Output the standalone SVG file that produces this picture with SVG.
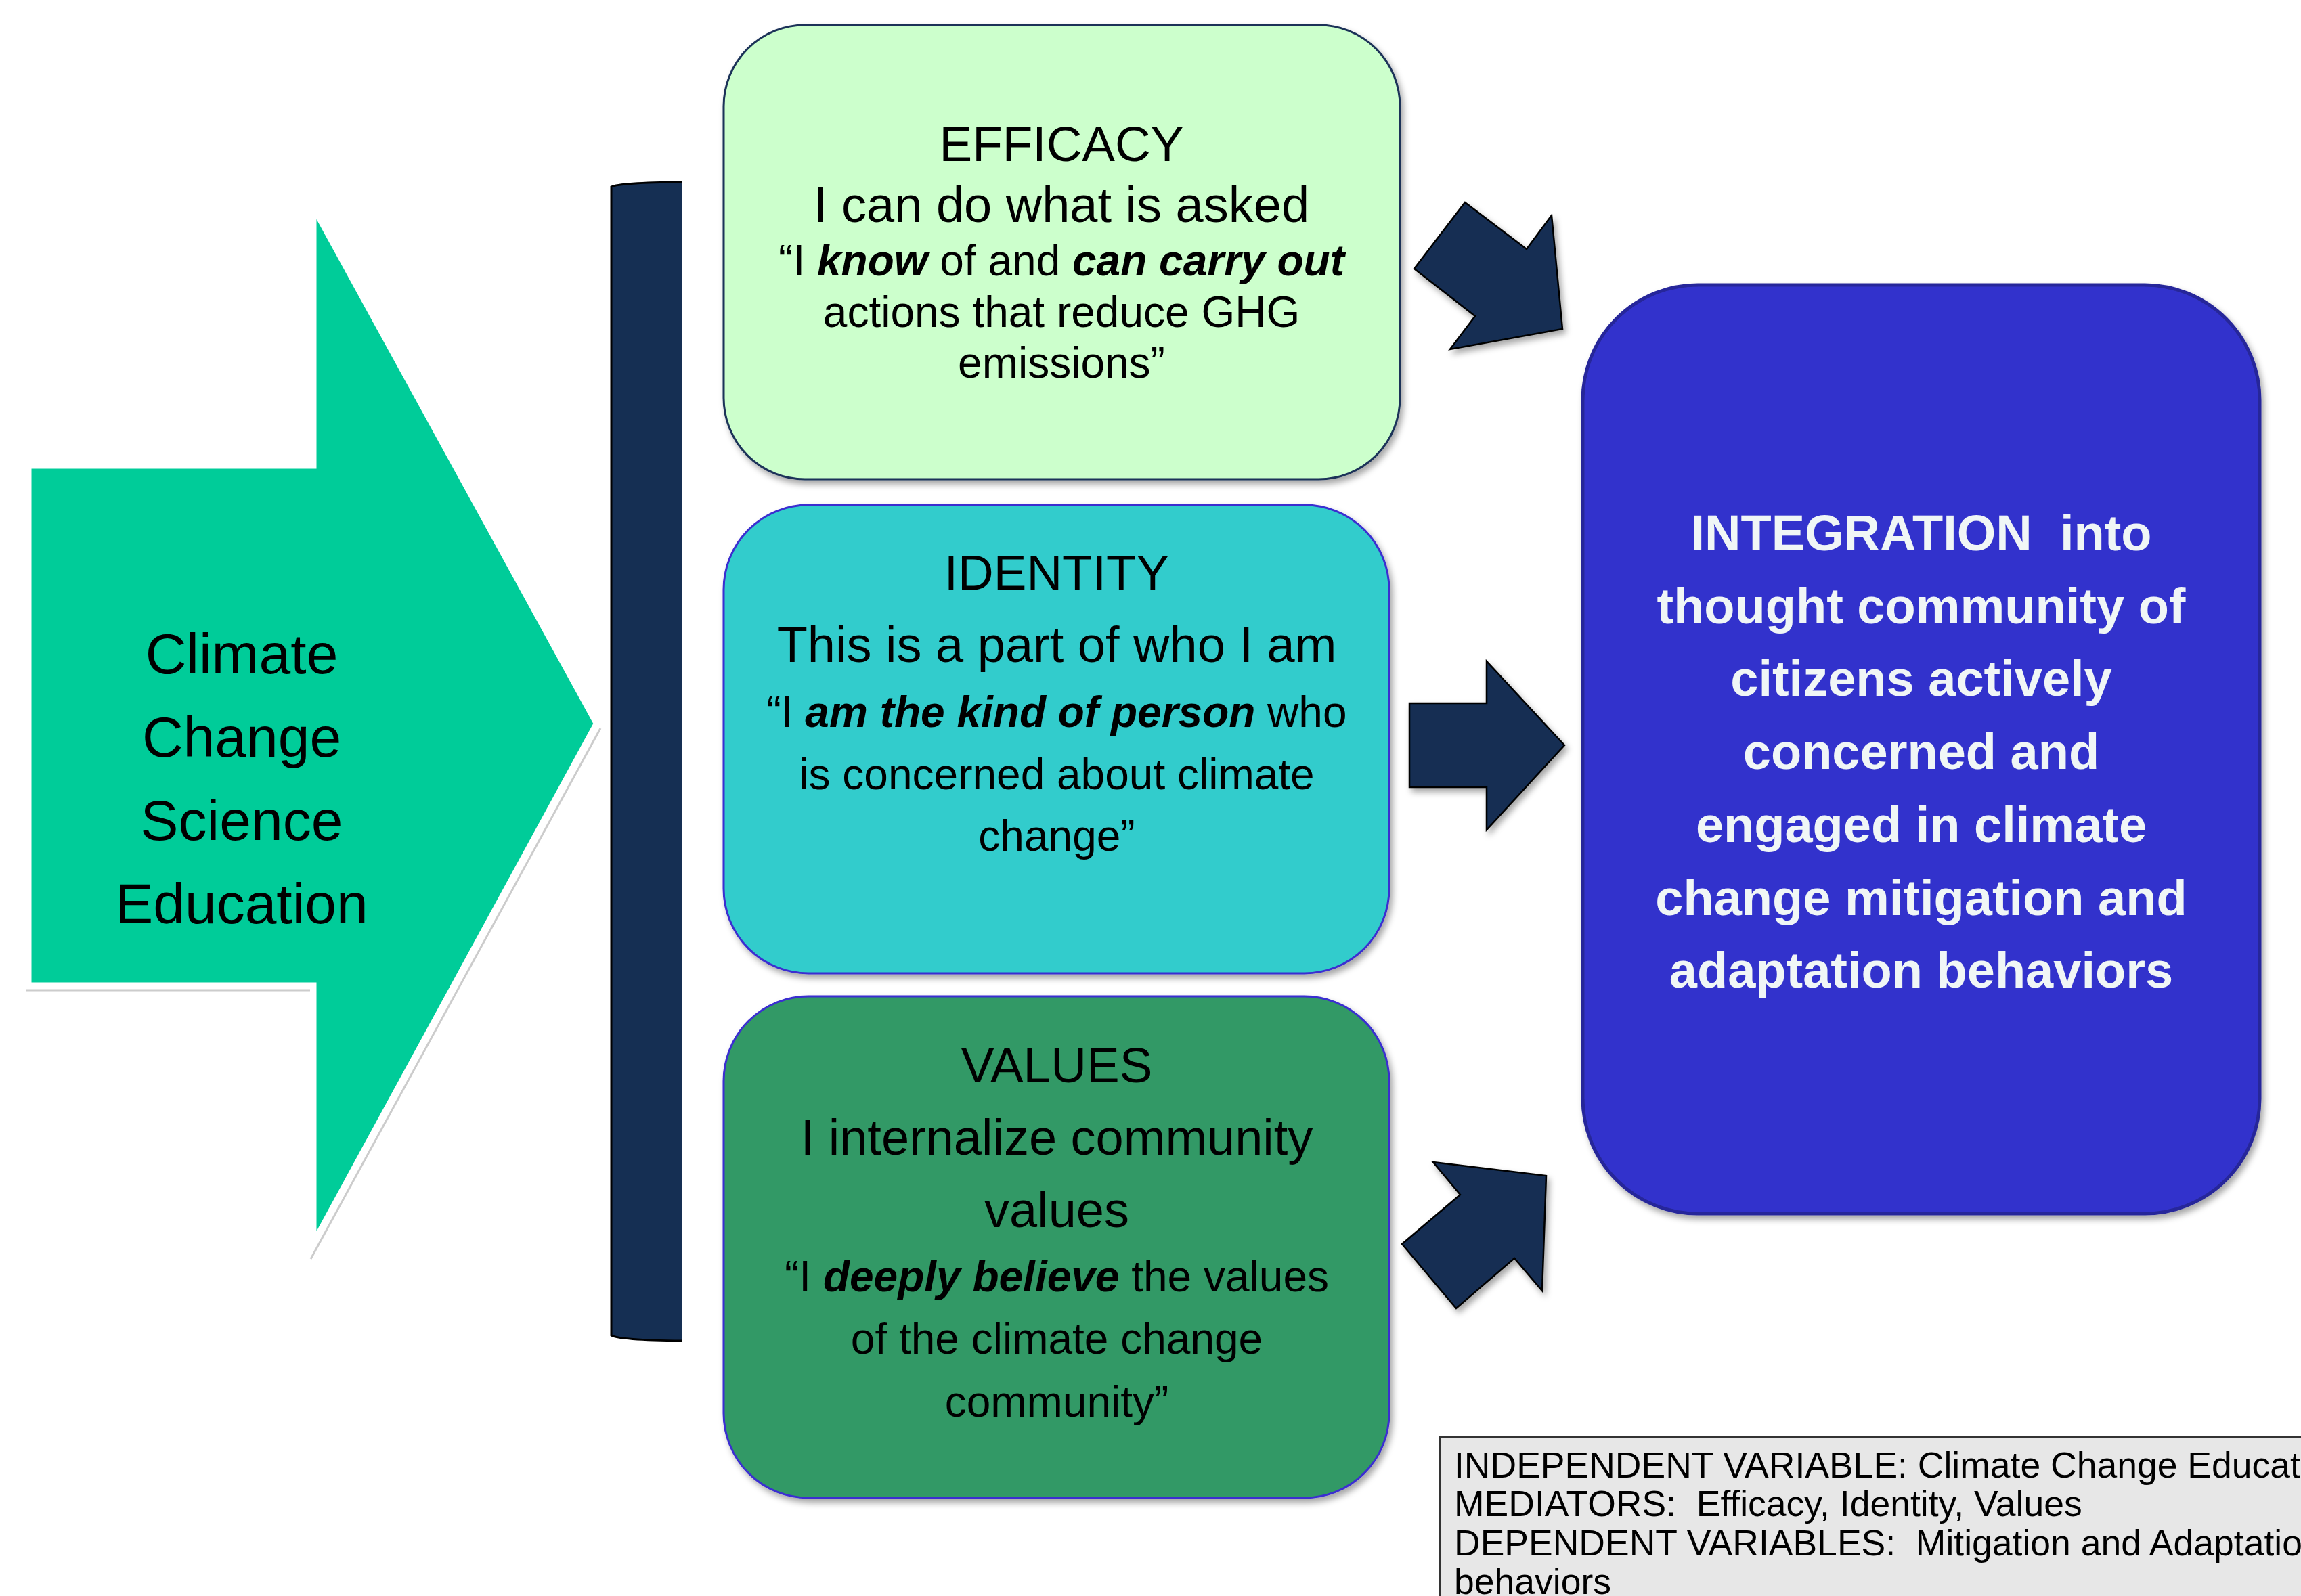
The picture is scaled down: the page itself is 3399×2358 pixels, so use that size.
<svg xmlns="http://www.w3.org/2000/svg" width="3399" height="2358" viewBox="0 0 3399 2358">
<defs>
<filter id="sh" x="-10%" y="-10%" width="120%" height="120%">
<feDropShadow dx="4" dy="6" stdDeviation="5" flood-color="#000" flood-opacity="0.35"/>
</filter>
<style>
text{font-family:"Liberation Sans",Arial,sans-serif;text-anchor:middle;fill:#000}
.t1{font-size:73px}
.t2{font-size:74px}
.t3{font-size:64px}
.bi{font-weight:bold;font-style:italic}
.big{font-size:84px}
.int{font-size:74px;font-weight:bold;fill:#f0f6f6;white-space:pre}
.leg{font-size:53.5px;text-anchor:start;white-space:pre}
.blk{fill:#142e52;stroke:#000;stroke-width:2.5;stroke-linejoin:miter;filter:url(#sh)}
.box{filter:url(#sh)}
</style>
</defs>
<rect width="3399" height="2358" fill="#fff"/>

<g id="climate-education">
<polyline points="38,1463 458,1463" fill="none" stroke="#cccccc" stroke-width="3"/>
<polyline points="887,1076 459,1860" fill="none" stroke="#cccccc" stroke-width="3"/>
<polygon points="45,691 466,691 466,318 878,1069 466,1825 466,1453 45,1453" fill="#00cc99" stroke="#fff" stroke-width="3"/>
<text class="big" x="357" y="995">Climate</text>
<text class="big" x="357" y="1118">Change</text>
<text class="big" x="357" y="1241">Science</text>
<text class="big" x="357" y="1364">Education</text>
</g>

<g id="bracket-bar">
<path d="M903,276 Q915,270 1007,268.7 L1007,1981 Q915,1980 903,1973 Z" fill="#152f53"/>
<path d="M1007,268.7 Q915,270 903,276 L903,1973 Q915,1980 1007,1981" fill="none" stroke="#000" stroke-width="3"/>
</g>

<g id="efficacy" class="box">
<rect x="1069" y="37" width="999" height="671" rx="120" ry="120" fill="#ccffcc" stroke="#1b3358" stroke-width="3"/>
<text class="t1" x="1568" y="238">EFFICACY</text>
<text class="t2" x="1568" y="328">I can do what is asked</text>
<text class="t3" x="1568" y="407">“I <tspan class="bi">know</tspan> of and <tspan class="bi">can carry out</tspan></text>
<text class="t3" x="1568" y="483">actions that reduce GHG</text>
<text class="t3" x="1568" y="558">emissions”</text>
</g>

<g id="identity" class="box">
<rect x="1069" y="746" width="983" height="692" rx="125" ry="125" fill="#33cccc" stroke="#3a2fd0" stroke-width="3"/>
<text class="t1" x="1561" y="871">IDENTITY</text>
<text class="t2" x="1561" y="978">This is a part of who I am</text>
<text class="t3" x="1561" y="1074">“I <tspan class="bi">am the kind of person</tspan> who</text>
<text class="t3" x="1561" y="1166">is concerned about climate</text>
<text class="t3" x="1561" y="1257">change”</text>
</g>

<g id="values" class="box">
<rect x="1069" y="1472" width="983" height="741" rx="125" ry="125" fill="#339966" stroke="#3a2fd0" stroke-width="3"/>
<text class="t1" x="1561" y="1599">VALUES</text>
<text class="t2" x="1561" y="1706">I internalize community</text>
<text class="t2" x="1561" y="1813">values</text>
<text class="t3" x="1561" y="1908">“I <tspan class="bi">deeply believe</tspan> the values</text>
<text class="t3" x="1561" y="2000">of the climate change</text>
<text class="t3" x="1561" y="2093">community”</text>
</g>

<g id="integration" class="box">
<rect x="2338" y="421" width="1000" height="1372" rx="170" ry="170" fill="#3333cc" stroke="#28289a" stroke-width="5"/>
<text class="int" x="2838" y="813">INTEGRATION  into</text>
<text class="int" x="2838" y="921">thought community of</text>
<text class="int" x="2838" y="1028">citizens actively</text>
<text class="int" x="2838" y="1136">concerned and</text>
<text class="int" x="2838" y="1244">engaged in climate</text>
<text class="int" x="2838" y="1352">change mitigation and</text>
<text class="int" x="2838" y="1459">adaptation behaviors</text>
</g>

<g id="connectors">
<polygon class="blk" points="2164,299 2255,368 2292,318 2308,486 2142,516 2179,467 2089,397"/>
<polygon class="blk" points="2082,1039 2196,1039 2196,977 2311,1101 2196,1226 2196,1163 2082,1163"/>
<polygon class="blk" points="2117,1717 2284,1737 2278,1907 2237,1859 2151,1933 2071,1838 2157,1765"/>
</g>

<g id="legend">
<rect x="2127" y="2123" width="1300" height="260" fill="#e7e7e7" stroke="#333" stroke-width="3"/>
<text class="leg" x="2148" y="2183">INDEPENDENT VARIABLE: Climate Change Education</text>
<text class="leg" x="2148" y="2240">MEDIATORS:  Efficacy, Identity, Values</text>
<text class="leg" x="2148" y="2298">DEPENDENT VARIABLES:  Mitigation and Adaptation</text>
<text class="leg" x="2148" y="2355">behaviors</text>
</g>
</svg>
